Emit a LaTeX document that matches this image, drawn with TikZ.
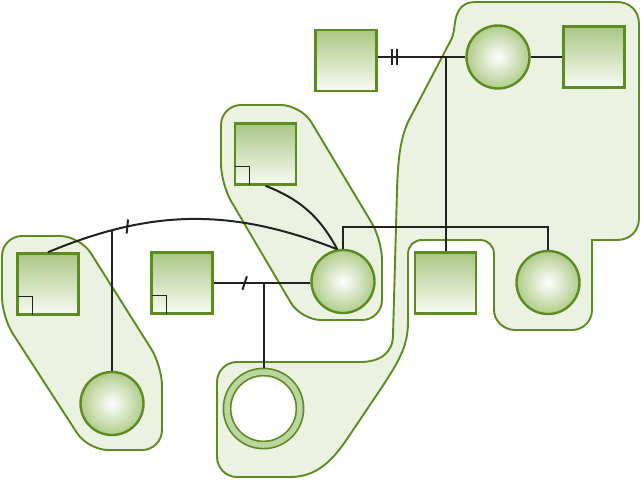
\documentclass[tikz,border=0pt]{standalone}
\usepackage{tikz}
\usetikzlibrary{decorations.markings}

\definecolor{leaf}{HTML}{5B8C1E}
\definecolor{leaftop}{HTML}{AAC784}
\definecolor{leafwhite}{HTML}{F8FBF4}
\definecolor{leafpale}{HTML}{ECF2E2}
\definecolor{leafball}{HTML}{B0CC8A}
\definecolor{leafring}{HTML}{BDD5A0}
\definecolor{ink}{HTML}{222222}

\begin{document}
\begin{tikzpicture}[
    x=1pt, y=-1pt,
    family/.style={
        draw=leaf,
        fill=leafpale,
        line width=1.9pt
    },
    male/.style={
        rectangle,
        minimum size=61pt,
        inner sep=0pt,
        draw=leaf,
        line width=2.6pt,
        top color=leaftop,
        bottom color=leafwhite
    },
    female/.style={
        circle,
        minimum size=63pt,
        inner sep=0pt,
        draw=leaf,
        line width=2.4pt,
        inner color=white,
        outer color=leafball
    },
    lost/.style={
        circle,
        minimum size=73pt,
        inner sep=0pt,
        outer sep=4.5pt,
        draw=leaf,
        line width=1.7pt,
        double=leafring,
        double distance=5.5pt,
        fill=white
    },
    tie/.style={
        draw=ink,
        line width=2pt
    },
    sepmark/.style={
        postaction={decorate},
        decoration={markings, mark=at position #1 with
            {\draw[ink, line width=2pt] (-2.2pt,-6.7pt) -- (2.2pt,6.7pt);}}
    },
    divmark/.style={
        postaction={decorate},
        decoration={markings, mark=at position #1 with
            {\draw[ink, line width=2pt] (-2.8pt,-8pt) -- (-2.8pt,8pt) (2.8pt,-8pt) -- (2.8pt,8pt);}}
    },
    adopt/.style={
        draw=ink,
        line width=1.2pt
    }
]
    \useasboundingbox (0,0) rectangle (642,480);

    % households
    \draw [family, rounded corners=20pt] (2,236) -- (80,236) -- (162,366) -- (162,450)
        -- (88,450) -- (2,317) -- cycle;
    \draw [family, rounded corners=20pt] (221,105) -- (301,105) -- (382,240) -- (382,320)
        -- (301,320) -- (221,184) -- cycle;
    \draw [family] (477,2) -- (617,2) .. controls (630,2) and (639,11) .. (639,24)
        -- (639,218) .. controls (639,231) and (630,240) .. (617,240)
        -- (592,240) -- (592,310) .. controls (592,321) and (583,330) .. (572,330)
        -- (515,330) .. controls (504,330) and (494,321) .. (494,310)
        -- (494,254) .. controls (494,246) and (488,240) .. (480,240)
        -- (422,240) .. controls (414,240) and (408,246) .. (408,254)
        -- (408,322) .. controls (408,345) and (400,360) .. (380,390)
        -- (345,442) .. controls (330,463) and (315,477) .. (290,477)
        -- (237,477) .. controls (226,477) and (217,468) .. (217,457)
        -- (217,382) .. controls (217,371) and (226,362) .. (237,362)
        -- (360,362) .. controls (380,362) and (393,353) .. (393,335)
        -- (397,190) .. controls (398,160) and (400,140) .. (408,122)
        -- (452,38) .. controls (455,30) and (454,20) .. (458,12)
        .. controls (462,4) and (468,2) .. (477,2) -- cycle;

    % people
    \node (gf) [male] at (346,60.5) {};
    \node (gm) [female] at (498,57) {};
    \node (gu) [male] at (594,57) {};
    \node (pa) [male] at (265.5,154) {};
    \node (ego) [female] at (343,281.5) {};
    \node (bro) [male] at (445.5,283) {};
    \node (sis) [female] at (548,282.5) {};
    \node (ex1) [male] at (48,284) {};
    \node (ex2) [male] at (182,283) {};
    \node (kid1) [female] at (112,403.5) {};
    \node (kid2) [lost] at (263.5,408.5) {};

    \foreach \n in {pa, ex1, ex2}
        \draw [adopt] ([shift={(1.3pt,19pt)}]\n.south west) -| ([shift={(16pt,1.3pt)}]\n.south west);

    % relations
    \draw [tie, divmark=0.19] (gf.east |- gm.west) -- (gm.west);
    \draw [tie] (gm) -- (gu);
    \draw [tie] (bro.north) -- (bro.north |- gm.west);
    \draw [tie] (ego.north) -- ++(0,-22) -| (sis.north);
    \draw [tie] (pa.south) to[bend left=20] (ego.100);
    \draw [tie, sepmark=0.28] (ex1.north) to[bend left=22] coordinate[pos=0.22] (fork) (ego.100);
    \draw [tie] (kid1.north) -- (kid1.north |- fork);
    \draw [tie, sepmark=0.32] (ex2.east) -- (ex2.east -| ego.west);
    \draw [tie] (kid2.north) -- (kid2.north |- ex2.east);

\end{tikzpicture}
\end{document}
